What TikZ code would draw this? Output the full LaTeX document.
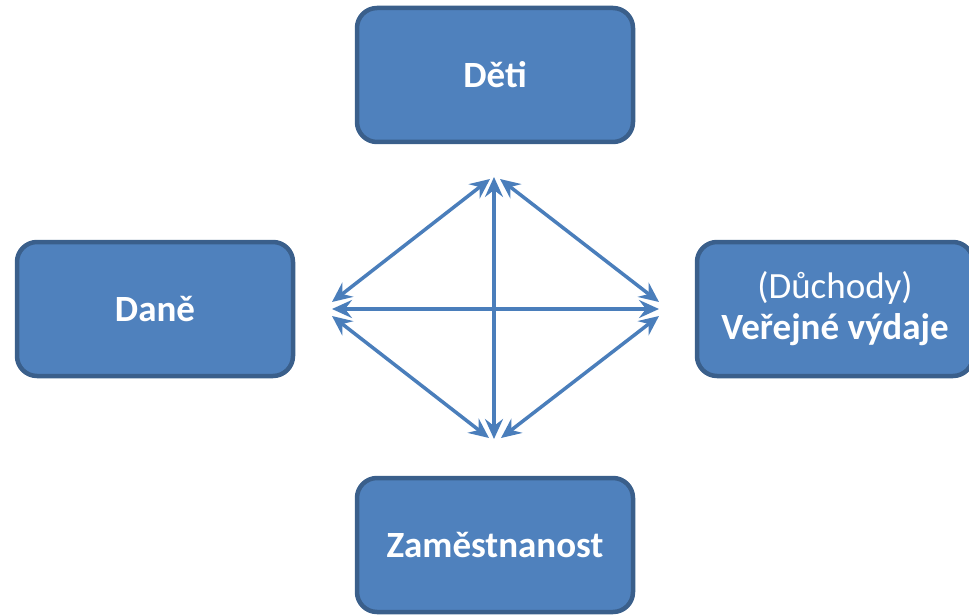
\documentclass[tikz,border=0pt]{standalone}
\usepackage{fontspec}
\setmainfont{Carlito}
\usetikzlibrary{arrows.meta}
\definecolor{boxfill}{HTML}{4F81BD}
\definecolor{boxline}{HTML}{3A5F8B}
\definecolor{arrowc}{HTML}{4A7EBB}
\tikzset{
  box/.style={draw=boxline, line width=4.5pt, fill=boxfill, rounded corners=20pt,
    minimum width=276pt, minimum height=134pt, inner sep=0pt, text=white,
    font=\fontsize{37}{41}\selectfont, align=center},
  link/.style={draw=arrowc, line width=3.5pt,
    {Stealth[length=20pt,width=18pt,inset=7pt]}-{Stealth[length=20pt,width=18pt,inset=7pt]}}
}
\begin{document}
\begin{tikzpicture}[x=1pt,y=-1pt]
\useasboundingbox (0,0) rectangle (969,615);
\clip (0,0) rectangle (969,615);
\node[box] (deti) at (495,75) {\bfseries Děti};
\node[box] (dane) at (155,309) {\bfseries Daně};
\node[box] (vyd) at (835,309) {(Důchody)\\\bfseries Veřejné výdaje};
\node[box] (zam) at (495,545) {\bfseries Zaměstnanost};
\coordinate (tL) at (490,179);
\coordinate (tC) at (494,177);
\coordinate (tR) at (500,179);
\coordinate (lT) at (332,302);
\coordinate (lC) at (332,309);
\coordinate (lB) at (332,316);
\coordinate (rT) at (659,302);
\coordinate (rC) at (659,309);
\coordinate (rB) at (659,316);
\coordinate (bL) at (489,438);
\coordinate (bC) at (494,439);
\coordinate (bR) at (501,438);
\draw[link] (lT) -- (tL);
\draw[link] (tR) -- (rT);
\draw[link] (rB) -- (bR);
\draw[link] (bL) -- (lB);
\draw[link] (lC) -- (rC);
\draw[link] (tC) -- (bC);
\end{tikzpicture}
\end{document}
